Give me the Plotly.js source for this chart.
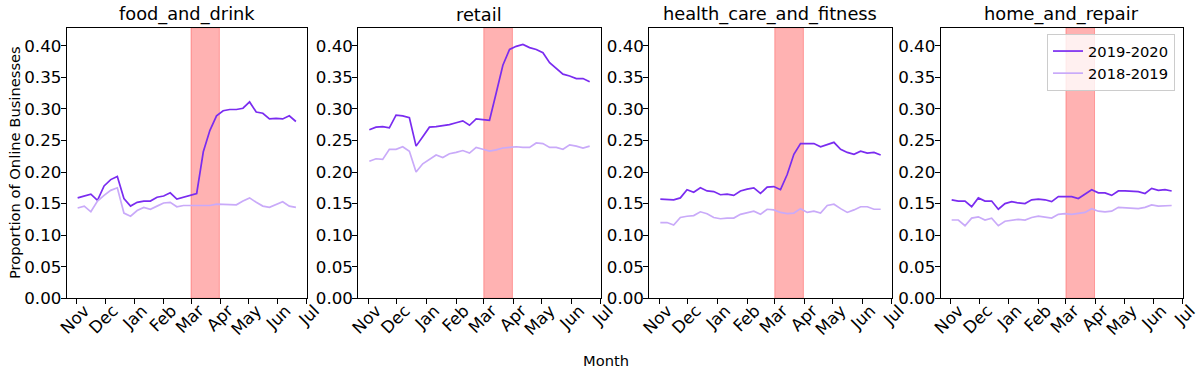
<!DOCTYPE html>
<html>
<head>
<meta charset="utf-8">
<script src="https://cdn.plot.ly/plotly-3.0.1.min.js"></script>
<style>
  body { margin: 0; background: #fff; }
  #chart { width: 1198px; height: 376px; }
</style>
</head>
<body>
<div id="chart"></div>
<script>
// weekly dates (the 2018-2019 series is drawn on the same weeks)
var weeks = [
  '2019-11-02', '2019-11-09', '2019-11-16', '2019-11-23', '2019-11-30',
  '2019-12-07', '2019-12-14', '2019-12-21', '2019-12-28',
  '2020-01-04', '2020-01-11', '2020-01-18', '2020-01-25',
  '2020-02-01', '2020-02-08', '2020-02-15', '2020-02-22', '2020-02-29',
  '2020-03-07', '2020-03-14', '2020-03-21', '2020-03-28',
  '2020-04-04', '2020-04-11', '2020-04-18', '2020-04-25',
  '2020-05-02', '2020-05-09', '2020-05-16', '2020-05-23', '2020-05-30',
  '2020-06-06', '2020-06-13', '2020-06-20'
];

var categories = ['food_and_drink', 'retail', 'health_care_and_fitness', 'home_and_repair'];
var seriesNames = ['2019-2020', '2018-2019'];

var food2020 = [0.159, 0.162, 0.165, 0.155, 0.178, 0.188, 0.193, 0.158, 0.146, 0.152, 0.154, 0.154,
  0.160, 0.162, 0.167, 0.157, 0.160, 0.162, 0.166, 0.232, 0.266, 0.289, 0.297, 0.299, 0.299, 0.301,
  0.311, 0.295, 0.293, 0.284, 0.285, 0.284, 0.289, 0.280];
var food2019 = [0.143, 0.146, 0.137, 0.154, 0.163, 0.171, 0.175, 0.135, 0.130, 0.139, 0.144, 0.141,
  0.146, 0.151, 0.152, 0.145, 0.147, 0.147, 0.146, 0.146, 0.147, 0.149, 0.149, 0.148, 0.148, 0.154,
  0.159, 0.152, 0.146, 0.144, 0.149, 0.153, 0.146, 0.144];

var retail2020 = [0.267, 0.271, 0.272, 0.270, 0.290, 0.289, 0.286, 0.241, 0.256, 0.271, 0.272, 0.273,
  0.275, 0.278, 0.281, 0.274, 0.284, 0.283, 0.282, 0.325, 0.369, 0.394, 0.399, 0.402, 0.397, 0.394,
  0.389, 0.373, 0.364, 0.355, 0.352, 0.348, 0.348, 0.343];
var retail2019 = [0.217, 0.221, 0.220, 0.236, 0.236, 0.240, 0.233, 0.200, 0.213, 0.220, 0.227, 0.223,
  0.229, 0.231, 0.234, 0.230, 0.239, 0.236, 0.233, 0.235, 0.238, 0.239, 0.240, 0.239, 0.239, 0.246,
  0.245, 0.239, 0.239, 0.236, 0.243, 0.241, 0.238, 0.241];

var health2020 = [0.157, 0.157, 0.156, 0.159, 0.172, 0.168, 0.175, 0.170, 0.169, 0.164, 0.165, 0.163,
  0.170, 0.173, 0.175, 0.166, 0.176, 0.177, 0.172, 0.196, 0.228, 0.245, 0.245, 0.245, 0.240, 0.244,
  0.247, 0.236, 0.231, 0.228, 0.233, 0.230, 0.231, 0.227];
var health2019 = [0.120, 0.120, 0.116, 0.128, 0.130, 0.131, 0.137, 0.134, 0.128, 0.126, 0.127, 0.127,
  0.133, 0.135, 0.138, 0.133, 0.141, 0.140, 0.136, 0.134, 0.135, 0.142, 0.136, 0.138, 0.135, 0.147,
  0.149, 0.142, 0.136, 0.140, 0.145, 0.145, 0.141, 0.141];

var home2020 = [0.156, 0.154, 0.154, 0.145, 0.159, 0.154, 0.154, 0.141, 0.150, 0.153, 0.151, 0.150,
  0.156, 0.157, 0.156, 0.153, 0.161, 0.161, 0.161, 0.158, 0.165, 0.172, 0.167, 0.167, 0.163, 0.170,
  0.170, 0.170, 0.169, 0.166, 0.174, 0.171, 0.172, 0.170];
var home2019 = [0.124, 0.124, 0.115, 0.127, 0.129, 0.124, 0.127, 0.115, 0.122, 0.124, 0.125, 0.124,
  0.128, 0.130, 0.129, 0.127, 0.133, 0.134, 0.133, 0.134, 0.136, 0.142, 0.138, 0.137, 0.138, 0.144,
  0.143, 0.142, 0.142, 0.144, 0.148, 0.146, 0.147, 0.147];

var monthTicks = ['2019-11-01', '2019-12-01', '2020-01-01', '2020-02-01', '2020-03-01',
  '2020-04-01', '2020-05-01', '2020-06-01', '2020-07-01'];
var monthLabels = ['Nov', 'Dec', 'Jan', 'Feb', 'Mar', 'Apr', 'May', 'Jun', 'Jul'];
var yTicks = [0, 0.05, 0.10, 0.15, 0.20, 0.25, 0.30, 0.35, 0.40];
var lockdown = ['2020-03-01', '2020-03-31'];

var panels = [
  [food2020, food2019],
  [retail2020, retail2019],
  [health2020, health2019],
  [home2020, home2019]
];

var colNew = 'rgb(122,44,240)';
var colOld = 'rgb(201,170,249)';
var fontFam = 'DejaVu Sans, sans-serif';

var xDomains = [[0.0557, 0.2561], [0.2991, 0.5014], [0.5420, 0.7443], [0.7852, 0.9872]];
var yDomain = [0.2066, 0.9263];

var data = [];
var shapes = [];
var annotations = [];
var layout = {
  width: 1198,
  height: 376,
  margin: {l: 0, r: 0, t: 0, b: 0},
  paper_bgcolor: 'white',
  plot_bgcolor: 'white',
  font: {family: fontFam, size: 16.7, color: 'black'},
  showlegend: true,
  legend: {
    x: 0.9808, xanchor: 'right',
    y: 0.9096, yanchor: 'top',
    bgcolor: 'rgba(255,255,255,0.8)',
    bordercolor: '#cccccc',
    borderwidth: 1,
    font: {family: fontFam, size: 14.7, color: 'black'}
  }
};

panels.forEach(function(p, i) {
  var n = i + 1;
  var xa = n === 1 ? 'x' : 'x' + n;
  var ya = n === 1 ? 'y' : 'y' + n;

  data.push({
    x: weeks, y: p[0], xaxis: xa, yaxis: ya,
    mode: 'lines', name: seriesNames[0],
    line: {color: colNew, width: 1.7},
    showlegend: n === 4, legendrank: 1
  });
  data.push({
    x: weeks, y: p[1], xaxis: xa, yaxis: ya,
    mode: 'lines', name: seriesNames[1],
    line: {color: colOld, width: 1.7},
    showlegend: n === 4, legendrank: 2
  });

  layout['xaxis' + (n === 1 ? '' : n)] = {
    domain: xDomains[i],
    anchor: ya,
    type: 'date',
    range: ['2019-10-21 11:00', '2020-07-01 13:00'],
    tickvals: monthTicks,
    ticktext: monthLabels,
    tickangle: -45,
    ticklabelshift: 8,
    ticklabelstandoff: -10,
    ticklabeloverflow: 'allow',
    ticks: 'outside', ticklen: 5, tickwidth: 1, tickcolor: 'black',
    tickfont: {family: fontFam, size: 16.7, color: 'black'},
    showgrid: false, zeroline: false,
    showline: true, linecolor: 'black', linewidth: 1, mirror: true
  };
  layout['yaxis' + (n === 1 ? '' : n)] = {
    domain: yDomain,
    anchor: xa,
    range: [0, 0.4285],
    tickvals: yTicks,
    tickformat: '.2f',
    ticklabelstandoff: -4,
    ticks: 'outside', ticklen: 5, tickwidth: 1, tickcolor: 'black',
    tickfont: {family: fontFam, size: 16.7, color: 'black'},
    showgrid: false, zeroline: false,
    showline: true, linecolor: 'black', linewidth: 1, mirror: true
  };

  shapes.push({
    type: 'rect', layer: 'below',
    xref: xa, yref: ya + ' domain',
    x0: lockdown[0], x1: lockdown[1], y0: 0, y1: 1,
    fillcolor: 'rgba(255,0,0,0.3)',
    line: {color: 'rgba(255,0,0,0.3)', width: 1}
  });

  annotations.push({
    text: categories[i],
    xref: 'paper', yref: 'paper',
    x: (xDomains[i][0] + xDomains[i][1]) / 2, y: yDomain[1],
    xanchor: 'center', yanchor: 'bottom', yshift: 1,
    showarrow: false,
    font: {family: fontFam, size: 17.8, color: 'black'}
  });
});

annotations.push({
  text: 'Proportion of Online Businesses',
  xref: 'paper', yref: 'paper',
  x: 14 / 1198, y: (yDomain[0] + yDomain[1]) / 2,
  xanchor: 'center', yanchor: 'middle', textangle: -90,
  showarrow: false,
  font: {family: fontFam, size: 14.7, color: 'black'}
});
annotations.push({
  text: 'Month',
  xref: 'paper', yref: 'paper',
  x: 606 / 1198, y: 1 - 360 / 376,
  xanchor: 'center', yanchor: 'middle',
  showarrow: false,
  font: {family: fontFam, size: 14.7, color: 'black'}
});

layout.shapes = shapes;
layout.annotations = annotations;

Plotly.newPlot('chart', data, layout, {displayModeBar: false, staticPlot: true});
</script>
</body>
</html>
